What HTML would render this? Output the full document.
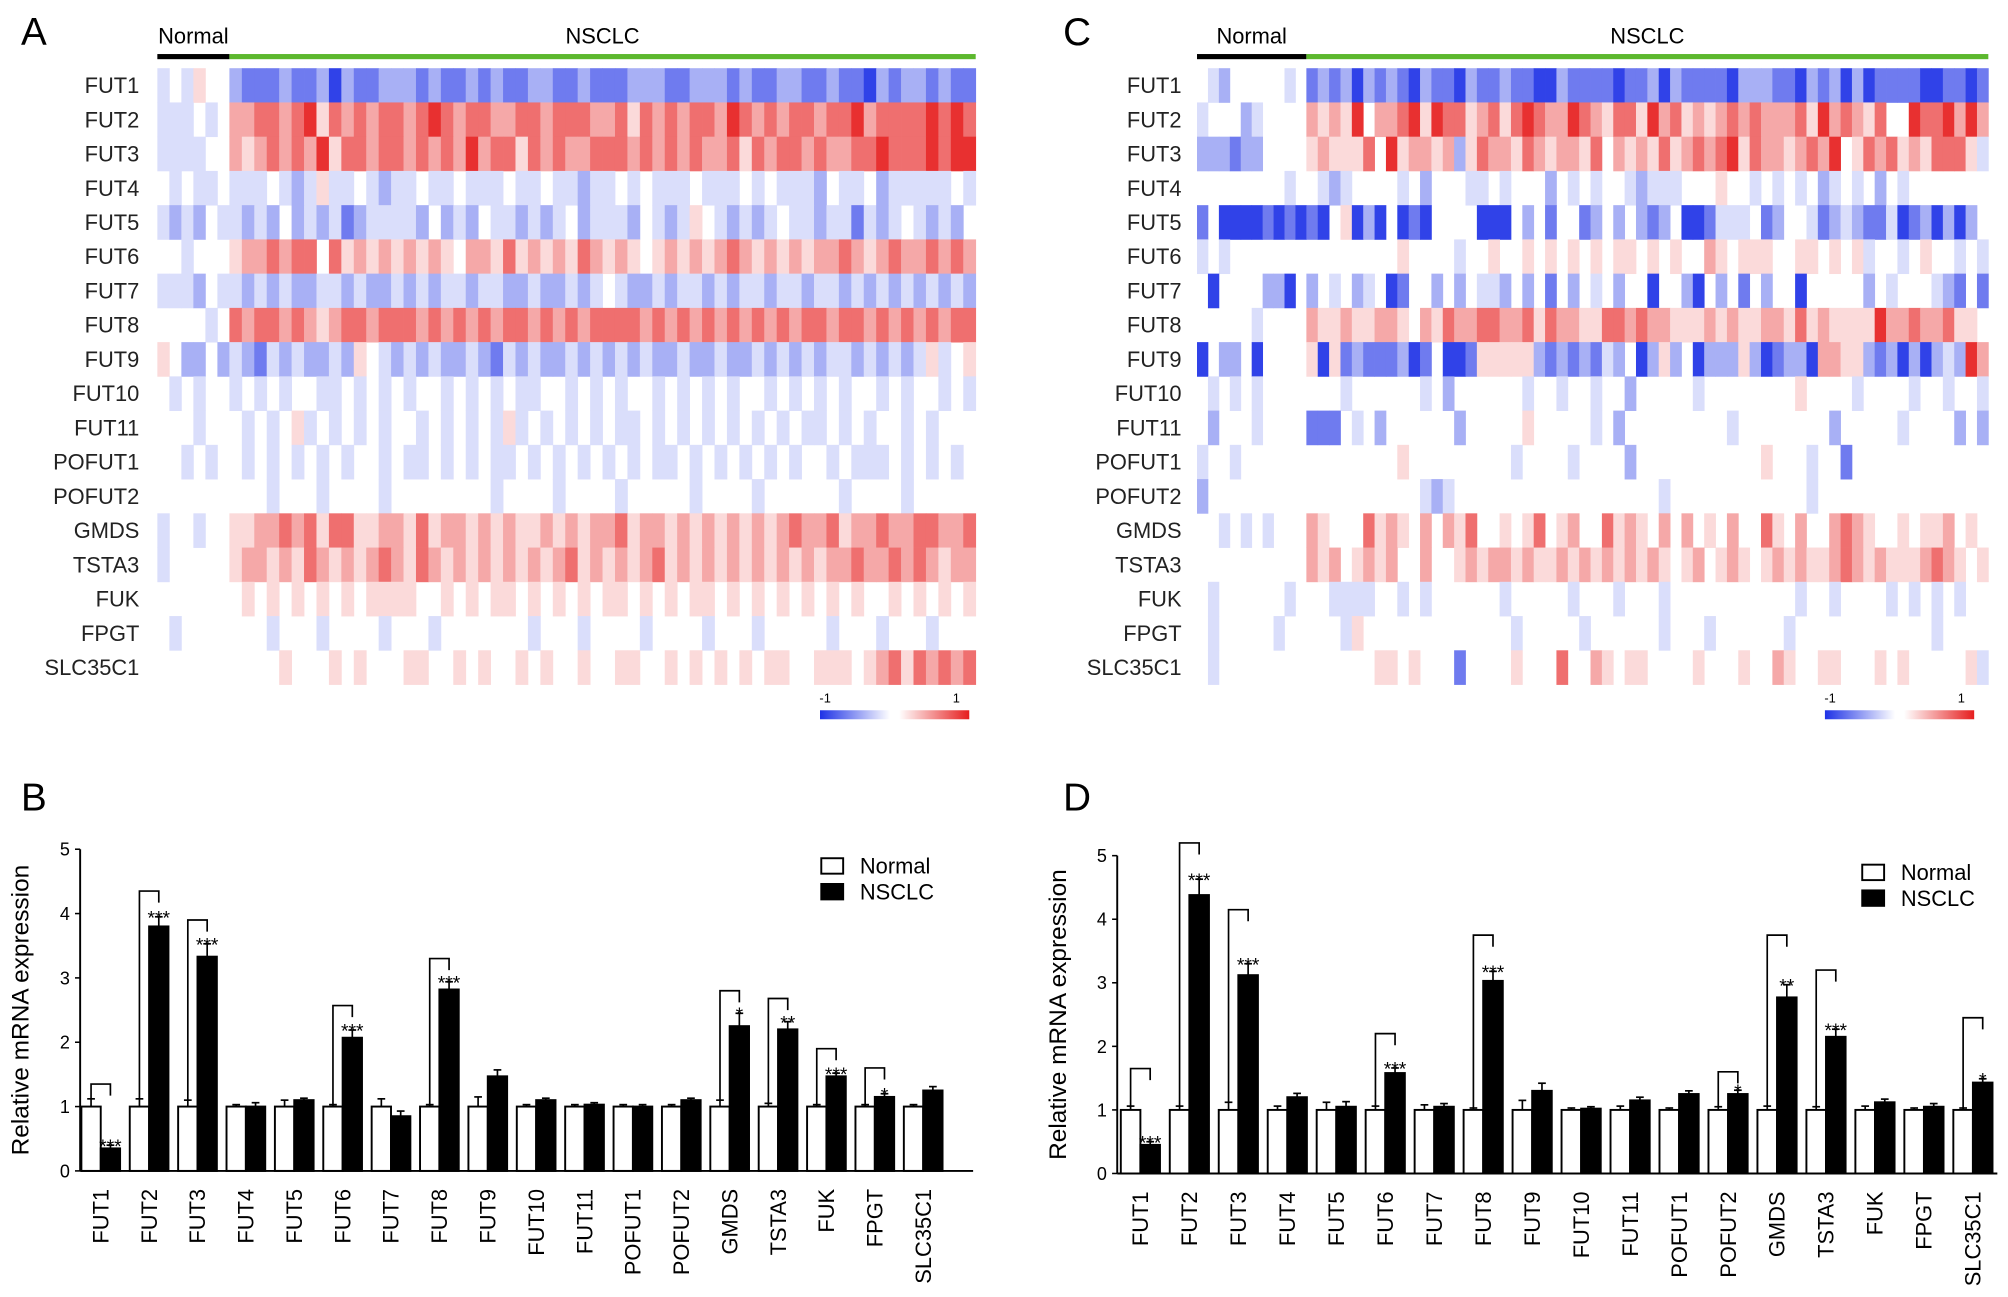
<!DOCTYPE html>
<html><head><meta charset="utf-8"><style>
html,body{margin:0;padding:0;background:#fff;}
svg{display:block;font-family:"Liberation Sans",Arial,sans-serif;}
</style></head><body>
<svg id="fig" width="2008" height="1297" viewBox="0 0 1560 1008" xmlns="http://www.w3.org/2000/svg">
<defs>
<linearGradient id="cb" x1="0" x2="1"><stop offset="0" stop-color="#1e32e6"/><stop offset="0.47" stop-color="#fff"/><stop offset="0.53" stop-color="#fff"/><stop offset="1" stop-color="#e61e1e"/></linearGradient>
</defs>
<g id="pA"></g>
<g id="pC"></g>
<g id="pB"></g>
<g id="pD"></g>
</svg>
<script>
const genes = ["FUT1","FUT2","FUT3","FUT4","FUT5","FUT6","FUT7","FUT8","FUT9","FUT10","FUT11","POFUT1","POFUT2","GMDS","TSTA3","FUK","FPGT","SLC35C1"];
// heatmap levels: digit 1..9, 5 = 0, 1 = -1, 9 = +1
const heatA_normal = ["454655","444545","444455","545445","434354","554555","444354","555545","653353","545455","555455","554545","555555","455455","455555","555555","545555","555555"];
const heatA_nsclc = [
"322232231322333232232322332232223332233323223322322132332322",
"778878968787887898788778878887786878788798787887889788889898",
"767878796887887878797886878778887878787786878878778898889899",
"444543464454344544544454454434454544454445454443544534444454",
"434353434234444353435443434534443543465434345443442434543435",
"677878858676767676577686767687676567676787676767787678778787",
"434343344343343434434433433434543343443434434434434343434343",
"878878767887888787878788787878888787878787878788788787878788",
"432434334365434343343243433434343433433433434343443434346456",
"454545544545454554545454455454545545454545545454545545455454",
"545456454545455454545464545454544545454545454544545455454555",
"545454545455454454545445454545454544545454545455454445454545",
"555455545555455555555455554555545555545555455555545555455555",
"667787868866776867767676676767786776767676767877867787788778",
"677676876767876876767676767867676786767676767676778778787677",
"565656565656666556565665656565665656566565656565656556565656",
"555455545555455545555555455545555455554555455555455545554555",
"555565556565556655656556565565566556565656566556665678687878"];
const heatC_normal = ["5435555545","4555345555","3332335555","5555555545","2511112121","4545555555","5155553315","5555545555","1533515555","5454545555","5355545555","4554555555","3555555555","5545454555","5555555555","5455555545","5455555455","5455555555"];
const heatC_nsclc = [
"232313232132213223221132222122313222213332213231312222112212",
"767695778969886786898779876886978676787877786978768559889797",
"676668596776736877687677685767686787896877678795687867688864",
"543455554535554454555354545543444555655454545345453545555555",
"215613151215555111535255235353235112444523554234322412313135",
"555555556555545565565656565665656557656665566565645545655454",
"354534512553535443535253545355155315352535515555535455543252",
"766766776576877887786877668878776667676677686766669778778665",
"616232223125112666663232324351363513336312331776632313134397",
"555455555545355555545545545535555545555555565555455554554554",
"222545355555535555565555545355555555545555555535555545555353",
"555555556555555555455554555535555555555565554552555555555555",
"555555555543455555555555555555545555555555554555555555555555",
"765558676575768556568567558676575756575586575578765565667565",
"767567675575567677676676767676765675676567676678767666787656",
"554444554545555554555554555455545555555555545545555454545455",
"555465555555555555455555455555545554555555455555555555545555",
"555555665655525555655585576566555565556557655665556565555564"];
// bar charts
const barCats = genes;
const B_normal = [1,1,1,1,1,1,1,1,1,1,1,1,1,1,1,1,1,1];
const B_normalErr = [0.12,0.12,0.1,0.03,0.1,0.03,0.12,0.03,0.15,0.03,0.03,0.03,0.03,0.1,0.05,0.03,0.03,0.03];
const B_nsclc = [0.35,3.8,3.33,1.0,1.1,2.07,0.85,2.82,1.47,1.1,1.03,1.0,1.1,2.25,2.2,1.47,1.15,1.25];
const B_nsclcErr = [0.05,0.15,0.2,0.06,0.03,0.12,0.08,0.12,0.1,0.03,0.03,0.03,0.03,0.2,0.12,0.05,0.05,0.06];
const B_sig = ["***","***","***","","","***","","***","","","","","","*","**","***","*",""];
const B_bracket = [1.35,4.35,3.9,0,0,2.57,0,3.3,0,0,0,0,0,2.8,2.68,1.9,1.6,0];
const D_normal = [1,1,1,1,1,1,1,1,1,1,1,1,1,1,1,1,1,1];
const D_normalErr = [0.06,0.06,0.12,0.06,0.12,0.06,0.08,0.03,0.15,0.03,0.06,0.03,0.05,0.06,0.05,0.06,0.03,0.03];
const D_nsclc = [0.45,4.38,3.12,1.2,1.05,1.58,1.05,3.03,1.3,1.02,1.15,1.25,1.25,2.77,2.15,1.12,1.05,1.43];
const D_nsclcErr = [0.05,0.25,0.18,0.06,0.08,0.08,0.05,0.15,0.12,0.03,0.05,0.05,0.06,0.2,0.12,0.05,0.05,0.06];
const D_sig = ["***","***","***","","","***","","***","","","","","*","**","***","","","*"];
const D_bracket = [1.65,5.2,4.15,0,0,2.2,0,3.75,0,0,0,0,1.6,3.75,3.2,0,0,2.45];
const yTicks = [0,1,2,3,4,5];

const NS="http://www.w3.org/2000/svg";
function mk(parent,tag,attrs,text){const e=document.createElementNS(NS,tag);for(const k in attrs)e.setAttribute(k,attrs[k]);if(text!==undefined)e.textContent=text;parent.appendChild(e);return e;}
function col(d){const v=(d-5)/4;const t=Math.pow(Math.abs(v),1.25)*0.92;
 if(v<0){return `rgb(${Math.round(255-t*225)},${Math.round(255-t*205)},${Math.round(255-t*25)})`;}
 return `rgb(${Math.round(255-t*25)},${Math.round(255-t*225)},${Math.round(255-t*225)})`;}

function heat(g,o){
 const rowH=(o.y1-o.y0)/genes.length;
 let t=mk(g,'text',{x:o.lx,y:35,'font-size':30});t.textContent=o.letter;
 
 
 t=mk(g,'text',{x:(o.x0+o.xm)/2,y:34,'font-size':17,'text-anchor':'middle'},'Normal');
 
 
 t=mk(g,'text',{x:(o.xm+o.x1)/2,y:34,'font-size':17,'text-anchor':'middle'},'NSCLC');
 
 
 let r=mk(g,'rect',{x:o.x0,y:42,width:o.xm-o.x0,height:4,fill:'#000'});
 
 
 r=mk(g,'rect',{x:o.xm,y:42,width:o.x1-o.xm,height:4,fill:'#5cb82e'});
 
 
 genes.forEach((gn,i)=>{
  const y=o.y0+i*rowH;
  const lab=mk(g,'text',{x:o.labX,y:y+rowH/2+6,'font-size':17,'text-anchor':'end',fill:'#222'},gn);
  
  
  [[o.normal[i],o.x0,o.xm],[o.nsclc[i],o.xm,o.x1]].forEach(([s,a,b])=>{
   const w=(b-a)/s.length;
   for(let j=0;j<s.length;j++){
    const d=+s[j]; if(d===5) continue;
    const c=mk(g,'rect',{x:a+j*w,y:y,width:w+0.3,height:rowH+0.3,fill:col(d)});
    
    
   }
  });
 });
 r=mk(g,'rect',{x:o.cbx,y:552,width:116,height:7,fill:'url(#cb)'});
 
 
 t=mk(g,'text',{x:o.cbx+4,y:546,'font-size':10,'text-anchor':'middle'},'-1');
 
 
 t=mk(g,'text',{x:o.cbx+106,y:546,'font-size':10,'text-anchor':'middle'},'1');
 
 
}
heat(document.getElementById('pA'),{letter:'A',lx:16,x0:122,xm:178,x1:758,y0:53,y1:532,labX:108,normal:heatA_normal,nsclc:heatA_nsclc,cbx:637});
heat(document.getElementById('pC'),{letter:'C',lx:826,x0:930,xm:1015,x1:1545,y0:53,y1:532,labX:918,normal:heatC_normal,nsclc:heatC_nsclc,cbx:1418});

function bars(g,o){
 const ys=v=>o.y0-v*o.unit;
 const xc=i=>o.cx0+i*o.step;
 let t=mk(g,'text',{x:o.lx,y:630,'font-size':30},o.letter);
 
 
 let l=mk(g,'line',{x1:o.ax,y1:ys(5),x2:o.ax,y2:o.y0,stroke:'#000','stroke-width':1.5});
 
 
 l=mk(g,'line',{x1:o.ax,y1:o.y0,x2:o.axEnd,y2:o.y0,stroke:'#000','stroke-width':1.5});
 
 
 yTicks.forEach(v=>{
  const tk=mk(g,'line',{x1:o.ax-4,y1:ys(v),x2:o.ax,y2:ys(v),stroke:'#000','stroke-width':1.2});
  
  
  const tl=mk(g,'text',{x:o.ax-8,y:ys(v)+5,'font-size':14,'text-anchor':'end'},String(v));
  
  
 });
 t=mk(g,'text',{x:0,y:0,'font-size':19,'text-anchor':'middle',transform:`translate(${o.ax-40},${ys(2.5)}) rotate(-90)`},'Relative mRNA expression');
 
 
 const bw=o.step*0.4;
 barCats.forEach((c,i)=>{
  const cx=xc(i);
  const nx=cx-bw, sx=cx;
  [[nx,o.normal[i],o.nErr[i]],[sx,o.nsclc[i],o.sErr[i]]].forEach(([x,v,e])=>{
   const eb=mk(g,'line',{x1:x+bw/2,y1:ys(v),x2:x+bw/2,y2:ys(v+e),stroke:'#000','stroke-width':1.3});
   
   
   const ec=mk(g,'line',{x1:x+bw/2-3,y1:ys(v+e),x2:x+bw/2+3,y2:ys(v+e),stroke:'#000','stroke-width':1.3});
   
   
  });
  const rn=mk(g,'rect',{x:nx,y:ys(o.normal[i]),width:bw,height:ys(0)-ys(o.normal[i]),fill:'#fff',stroke:'#000','stroke-width':1.5});
  
  
  const rs=mk(g,'rect',{x:sx,y:ys(o.nsclc[i]),width:bw,height:ys(0)-ys(o.nsclc[i]),fill:'#000',stroke:'#000','stroke-width':1.5});
  
  
  if(o.br[i]>0){
   const top=ys(o.br[i]);
   const p=mk(g,'path',{d:`M${nx+bw/2},${ys(o.normal[i]+o.nErr[i])} L${nx+bw/2},${top} L${sx+bw/2},${top} L${sx+bw/2},${top+9}`,fill:'none',stroke:'#000','stroke-width':1.3});
   
   
  }
  if(o.sig[i]){
   const st=mk(g,'text',{x:sx+bw/2,y:ys(o.nsclc[i]+o.sErr[i])+6,'font-size':15,'text-anchor':'middle'},o.sig[i]);
   
   
  }
  const cl=mk(g,'text',{x:0,y:0,'font-size':17,'text-anchor':'end',transform:`translate(${cx+6},${o.y0+14}) rotate(-90)`},c);
  
  
 });
 let lb=mk(g,'rect',{x:o.legX,y:o.legY,width:17,height:12,fill:'#fff',stroke:'#000','stroke-width':1.5});
 
 
 t=mk(g,'text',{x:o.legX+30,y:o.legY+12,'font-size':17},'Normal');
 
 
 lb=mk(g,'rect',{x:o.legX,y:o.legY+20,width:17,height:12,fill:'#000',stroke:'#000','stroke-width':1.5});
 
 
 t=mk(g,'text',{x:o.legX+30,y:o.legY+32,'font-size':17},'NSCLC');
 
 
}
bars(document.getElementById('pB'),{letter:'B',lx:16,ax:62,axEnd:756,y0:910,unit:50,cx0:78,step:37.6,normal:B_normal,nErr:B_normalErr,nsclc:B_nsclc,sErr:B_nsclcErr,sig:B_sig,br:B_bracket,legX:638,legY:667});
bars(document.getElementById('pD'),{letter:'D',lx:826,ax:868,axEnd:1552,y0:912,unit:49.4,cx0:886,step:38.06,normal:D_normal,nErr:D_normalErr,nsclc:D_nsclc,sErr:D_nsclcErr,sig:D_sig,br:D_bracket,legX:1447,legY:672});
</script>
</body></html>
